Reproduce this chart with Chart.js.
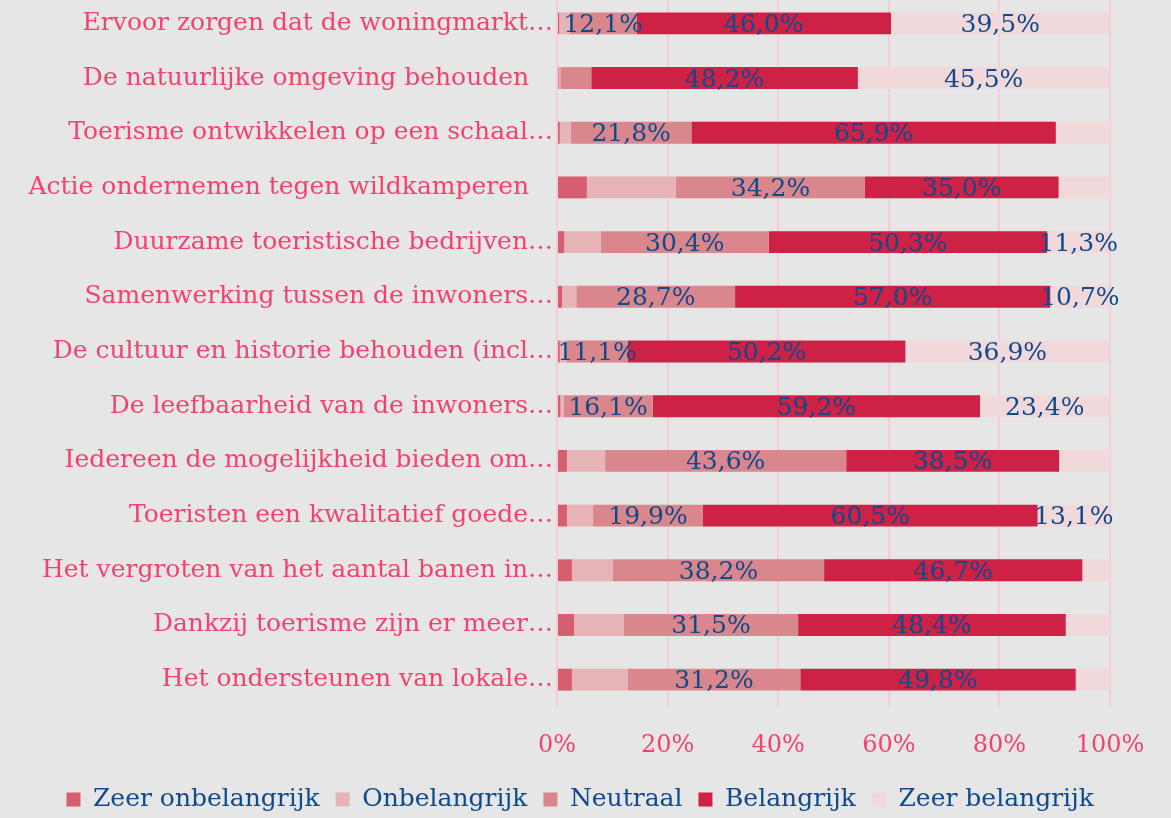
<!DOCTYPE html>
<html lang="nl">
<head>
<meta charset="utf-8">
<title>Belang van doelen toerisme</title>
<script src="https://cdn.jsdelivr.net/npm/chart.js@4/dist/chart.umd.min.js"></script>
<style>
  html, body { margin: 0; padding: 0; background: #e6e6e6; }
  #wrap { position: relative; width: 1171px; height: 818px; overflow: hidden; }
  #grafiek { position: absolute; left: 0; top: -4px; }
</style>
</head>
<body>
<div id="wrap">
  <canvas id="grafiek" width="1171" height="840"></canvas>
</div>
<script>
// Stellingen (afgekort zoals in de rapportage)
var categorieen = [
  'Ervoor zorgen dat de woningmarkt\u2026',
  'De natuurlijke omgeving behouden   ',
  'Toerisme ontwikkelen op een schaal\u2026',
  'Actie ondernemen tegen wildkamperen   ',
  'Duurzame toeristische bedrijven\u2026',
  'Samenwerking tussen de inwoners\u2026',
  'De cultuur en historie behouden (incl\u2026',
  'De leefbaarheid van de inwoners\u2026',
  'Iedereen de mogelijkheid bieden om\u2026',
  'Toeristen een kwalitatief goede\u2026',
  'Het vergroten van het aantal banen in\u2026',
  'Dankzij toerisme zijn er meer\u2026',
  'Het ondersteunen van lokale\u2026'
];

// Percentages per antwoordcategorie
var zeerOnbelangrijk = [0.4, 0.3, 0.5, 5.4, 1.3, 0.9, 0.5, 0.6, 1.8, 1.8, 2.7, 3.1, 2.7];
var onbelangrijk     = [1.9, 0.3, 2.0, 16.1, 6.6, 2.6, 1.2, 0.6, 6.9, 4.7, 7.4, 9.0, 10.1];
var neutraal         = [12.1, 5.6, 21.8, 34.2, 30.4, 28.7, 11.1, 16.1, 43.6, 19.9, 38.2, 31.5, 31.2];
var belangrijk       = [46.0, 48.2, 65.9, 35.0, 50.3, 57.0, 50.2, 59.2, 38.5, 60.5, 46.7, 48.4, 49.8];
var zeerBelangrijk   = [39.5, 45.5, 9.8, 9.3, 11.3, 10.7, 36.9, 23.4, 9.2, 13.1, 5.0, 8.0, 6.2];

var xTicks = [0, 20, 40, 60, 80, 100];

var roze = '#f2426f';
var blauw = '#0e4a8c';
var lettertype = '"DejaVu Serif", "Liberation Serif", serif';

// Achtergrond van het hele canvas
var achtergrond = {
  id: 'achtergrond',
  beforeDraw: function(chart) {
    var ctx = chart.ctx;
    ctx.save();
    ctx.fillStyle = '#e6e6e6';
    ctx.fillRect(0, 0, chart.width, chart.height);
    ctx.restore();
  }
};

// Percentages in de balken zetten (niet bij de twee onbelangrijk-reeksen)
var waardeLabels = {
  id: 'waardeLabels',
  afterDatasetsDraw: function(chart) {
    var ctx = chart.ctx;
    ctx.save();
    ctx.font = '25px ' + lettertype;
    ctx.fillStyle = blauw;
    ctx.textAlign = 'center';
    ctx.textBaseline = 'middle';
    chart.data.datasets.forEach(function(ds, i) {
      if (!ds.toonWaarde) return;
      var meta = chart.getDatasetMeta(i);
      meta.data.forEach(function(bar, j) {
        var v = ds.data[j];
        if (v < 10) return;
        var x = (bar.x + bar.base) / 2;
        ctx.fillText(v.toFixed(1).replace('.', ',') + '%', x, bar.y + 2);
      });
    });
    ctx.restore();
  }
};

function maakReeks(naam, waarden, kleur, toonWaarde) {
  return {
    label: naam,
    data: waarden,
    backgroundColor: kleur,
    borderWidth: 0,
    barPercentage: 0.4,
    categoryPercentage: 1.0,
    toonWaarde: toonWaarde
  };
}

var ctx = document.getElementById('grafiek').getContext('2d');
var chart = new Chart(ctx, {
  type: 'bar',
  data: {
    labels: categorieen,
    datasets: [
      maakReeks('Zeer onbelangrijk', zeerOnbelangrijk, '#d65f6f', false),
      maakReeks('Onbelangrijk', onbelangrijk, '#e6b4b7', false),
      maakReeks('Neutraal', neutraal, '#d9878c', true),
      maakReeks('Belangrijk', belangrijk, '#cd2146', true),
      maakReeks('Zeer belangrijk', zeerBelangrijk, '#f0d8db', true)
    ]
  },
  options: {
    indexAxis: 'y',
    responsive: false,
    animation: false,
    devicePixelRatio: 1,
    layout: {
      padding: { left: 0, right: 61, top: 0, bottom: 14 }
    },
    scales: {
      x: {
        stacked: true,
        min: 0,
        max: 100,
        afterBuildTicks: function(scale) {
          scale.ticks = xTicks.map(function(v) { return { value: v }; });
        },
        grid: {
          color: '#f8cbd8',
          lineWidth: 2,
          drawTicks: false
        },
        border: { display: false },
        ticks: {
          color: roze,
          padding: 24,
          font: { family: lettertype, size: 24 },
          callback: function(v) { return v + '%'; }
        },
        afterFit: function(scale) {
          scale.height = 64;
        }
      },
      y: {
        stacked: true,
        grid: { display: false, drawTicks: false },
        border: { display: false },
        ticks: {
          color: roze,
          padding: 4,
          autoSkip: false,
          font: { family: lettertype, size: 25 }
        },
        afterFit: function(scale) {
          scale.width = 557;
          scale.paddingTop = 0;
          scale.paddingBottom = 0;
        }
      }
    },
    plugins: {
      legend: {
        position: 'bottom',
        align: 'end',
        labels: {
          color: blauw,
          boxWidth: 14,
          boxHeight: 14,
          padding: 16,
          font: { family: lettertype, size: 25 }
        }
      },
      tooltip: { enabled: false }
    }
  },
  plugins: [achtergrond, waardeLabels]
});
</script>
</body>
</html>
